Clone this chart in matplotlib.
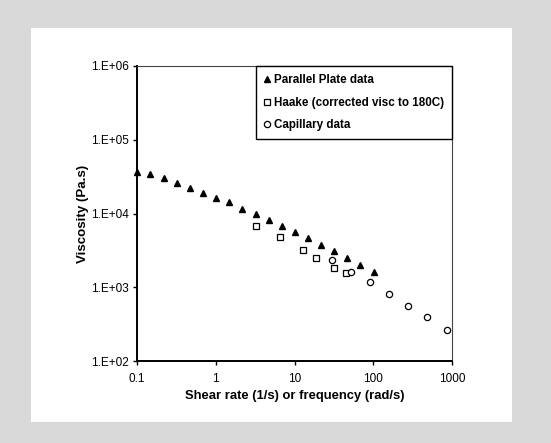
import matplotlib.pyplot as plt
from matplotlib.patches import Rectangle

# Parallel plate data
pp_rate = [0.1, 0.147, 0.218, 0.322, 0.471, 0.689, 1.02, 1.49, 2.18, 3.21,
           4.70, 6.93, 10.1, 14.9, 21.9, 32.1, 46.9, 68.6, 101]
pp_visc = [36600, 34100, 30100, 25800, 22000, 19200, 16300, 14100, 11600, 9800,
           8040, 6730, 5580, 4630, 3720, 3120, 2510, 2000, 1590]

# Haake (corrected visc to 180C)
hk_rate = [3.24, 6.49, 12.8, 18.9, 32.1, 44.7]
hk_visc = [6870, 4730, 3150, 2460, 1800, 1540]

# Capillary data
cap_rate = [29.6, 52.1, 91.8, 158, 276, 486, 855]
cap_visc = [2330, 1620, 1160, 807, 561, 390, 263]

x_ticks = [0.1, 1, 10, 100, 1000]
x_labels = ['0.1', '1', '10', '100', '1000']
y_ticks = [1e2, 1e3, 1e4, 1e5, 1e6]
y_labels = ['1.E+02', '1.E+03', '1.E+04', '1.E+05', '1.E+06']

plt.rcParams['font.family'] = ['Liberation Sans', 'DejaVu Sans']

fig = plt.figure(figsize=(5.51, 4.43), dpi=100)
fig.patch.set_facecolor('#d9d9d9')
fig.add_artist(Rectangle((31 / 551, 21 / 443), 481 / 551, 394 / 443,
                         transform=fig.transFigure, facecolor='white',
                         edgecolor='none', zorder=0))

ax = fig.add_axes([137 / 551, 82 / 443, 315 / 551, 295 / 443])
ax.set_facecolor('white')

ax.plot(pp_rate, pp_visc, linestyle='none', marker='^', color='black',
        markersize=5, label='Parallel Plate data', clip_on=False, zorder=3)
ax.plot(hk_rate, hk_visc, linestyle='none', marker='s', markerfacecolor='white',
        markeredgecolor='black', markersize=5, markeredgewidth=0.9,
        label='Haake (corrected visc to 180C)', zorder=3)
ax.plot(cap_rate, cap_visc, linestyle='none', marker='o', markerfacecolor='white',
        markeredgecolor='black', markersize=4.5, markeredgewidth=0.9,
        label='Capillary data', zorder=3)

ax.set_xscale('log')
ax.set_yscale('log')
ax.set_xlim(0.1, 1000)
ax.set_ylim(1e2, 1e6)
ax.set_xticks(x_ticks)
ax.set_xticklabels(x_labels)
ax.set_yticks(y_ticks)
ax.set_yticklabels(y_labels)
ax.minorticks_off()
ax.tick_params(axis='both', direction='out', length=3, width=1, labelsize=8.5)
ax.tick_params(axis='x', pad=6)
ax.tick_params(axis='y', pad=3)

for side in ['left', 'bottom']:
    ax.spines[side].set_linewidth(1.4)
    ax.spines[side].set_color('black')
for side in ['top', 'right']:
    ax.spines[side].set_linewidth(0.8)
    ax.spines[side].set_color('#444444')

ax.set_xlabel('Shear rate (1/s) or frequency (rad/s)', fontsize=9.4,
              fontweight='bold', labelpad=3)
ax.set_ylabel('Viscosity (Pa.s)', fontsize=9.6, fontweight='bold', labelpad=1.5)

leg = ax.legend(loc='upper right', borderaxespad=0, fancybox=False,
                framealpha=1, edgecolor='black', handlelength=0.6,
                handletextpad=0.25, labelspacing=0.9, borderpad=0.7,
                prop={'size': 8.4, 'weight': 'bold'})
leg.get_frame().set_linewidth(1.0)

fig.savefig('out.png', dpi=100, facecolor=fig.get_facecolor())
